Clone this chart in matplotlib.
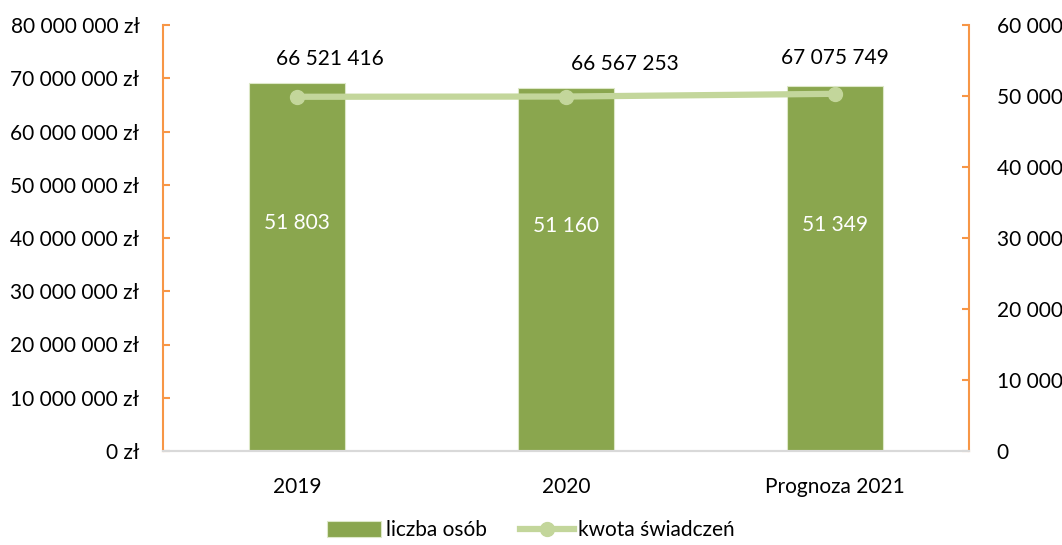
import matplotlib
matplotlib.use("Agg")
import matplotlib.pyplot as plt
from matplotlib.ticker import FuncFormatter

categories = ["2019", "2020", "Prognoza 2021"]
liczba_osob = [51803, 51160, 51349]
kwota = [66521416, 66567253, 67075749]
kwota_labels = ["66 521 416", "66 567 253", "67 075 749"]
osoby_labels = ["51 803", "51 160", "51 349"]

plt.rcParams['font.family'] = ['Lato', 'DejaVu Sans']
FS = 15
orange = "#F79646"
bar_color = "#8AA64E"
line_color = "#C3D69B"

fig = plt.figure(figsize=(10.62, 5.45), dpi=100)
ax = fig.add_axes([163/1062, 1-451/545, (969-163)/1062, (451-25)/545])
ax2 = ax.twinx()

x = list(range(len(categories)))
# bars on right axis
ax2.bar(x, liczba_osob, width=0.357, color=bar_color, edgecolor="#DDE8C8", linewidth=0.8, zorder=2, label="liczba osób")
ax2.set_ylim(0, 60000)
ax2.set_yticks(range(0, 60001, 10000))
ax2.yaxis.set_major_formatter(FuncFormatter(lambda v, p: f"{int(v):,}".replace(",", " ")))

for xi, v, lab in zip(x, liczba_osob, osoby_labels):
    ax2.text(xi, v*0.62, lab, ha="center", va="center", color="white", fontsize=FS)

# line on left axis (drawn above bars)
ax.set_zorder(ax2.get_zorder()+1)
ax.patch.set_visible(False)
ln, = ax.plot(x, kwota, color=line_color, linewidth=4.5, marker="o", markersize=10, zorder=3, label="kwota świadczeń")
ax.set_ylim(0, 80000000)
ax.set_yticks(range(0, 80000001, 10000000))
ax.yaxis.set_major_formatter(FuncFormatter(lambda v, p: (f"{int(v):,}".replace(",", " ") + " zł")))
ax.set_xlim(-0.5, 2.5)
ax.set_xticks(x)
ax.set_xticklabels(categories)

offsets = [(33, 38), (59, 33), (0, 36)]
for xi, v, lab, (dx, dy) in zip(x, kwota, kwota_labels, offsets):
    ax.annotate(lab, (xi, v), xytext=(dx*0.72, dy*0.72), textcoords="offset points",
                ha="center", va="center", fontsize=FS, color="black")

for a in (ax, ax2):
    a.spines["top"].set_visible(False)
    a.spines["left"].set_color(orange)
    a.spines["right"].set_color(orange)
    a.spines["left"].set_linewidth(1.5)
    a.spines["right"].set_linewidth(1.5)
    a.spines["bottom"].set_color("#D9D9D9")
    a.spines["bottom"].set_linewidth(1.5)
ax.spines["right"].set_visible(False)
ax2.spines["left"].set_visible(False)
ax.tick_params(axis="y", direction="in", length=5, color=orange, width=1.5, labelsize=FS, pad=17)
ax2.tick_params(axis="y", direction="in", length=5, color=orange, width=1.5, labelsize=FS, pad=20)
ax.tick_params(axis="x", length=0, labelsize=FS, pad=19)
for lbl in ax2.get_yticklabels():
    lbl.set_ha("left")

h1, l1 = ax2.get_legend_handles_labels()
h2, l2 = ax.get_legend_handles_labels()
fig.legend(h1+h2, l1+l2, loc="lower center", bbox_to_anchor=(0.5, -0.026), ncol=2, frameon=False,
           fontsize=FS, handlelength=2.6, handleheight=0.8, columnspacing=1.6, handletextpad=0.2)

fig.savefig("out.png", dpi=100)
